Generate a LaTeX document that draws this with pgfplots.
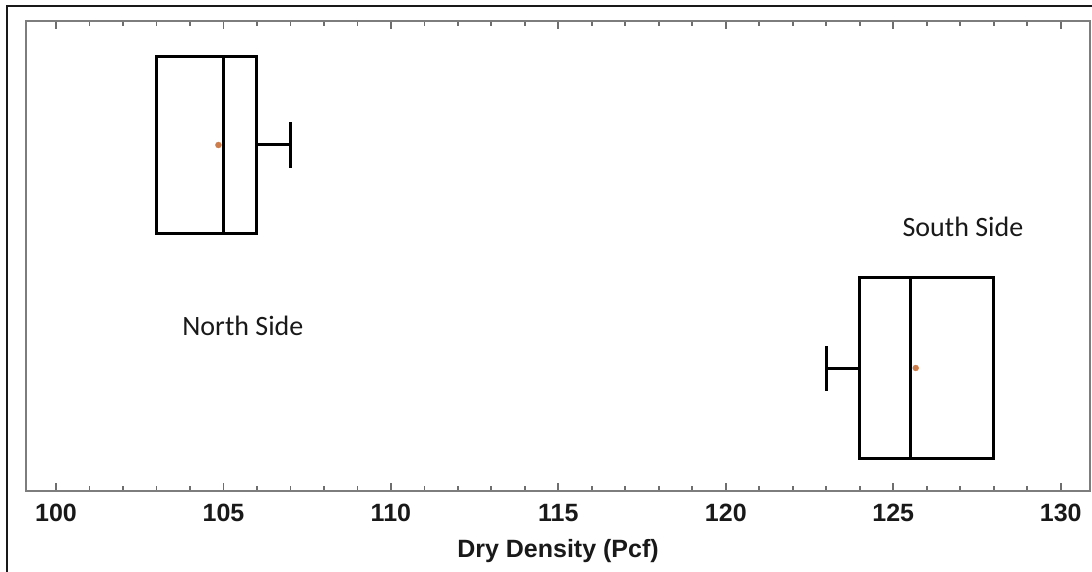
\documentclass[border=0pt]{standalone}
\usepackage{fontspec}
\setmainfont{Liberation Sans}
\newfontfamily\calfont{Carlito}
\usepackage{pgfplots}
\pgfplotsset{compat=1.18}
\usepgfplotslibrary{statistics}
\definecolor{meanc}{RGB}{205,125,75}
\definecolor{axgray}{RGB}{110,110,110}
\begin{document}
\begin{tikzpicture}[x=1pt,y=1pt]
\useasboundingbox (0,0) rectangle (1092,571);
\fill[white] (0,0) rectangle (1092,571);
\draw[line width=2.5pt, black!90] (7,-5) -- (7,565) -- (1100,565);
\begin{axis}[
  at={(26pt,80pt)}, anchor=south west,
  scale only axis, width=1064pt, height=470pt,
  xmin=99.104, xmax=130.875, ymin=0, ymax=470,
  ytick=\empty,
  xtick={100,105,...,130},
  minor x tick num=4,
  tick align=inside,
  major tick length=8pt, minor tick length=5pt,
  tick style={draw=axgray, line width=1.8pt},
  axis line style={draw=axgray!90, line width=2.2pt},
  /pgf/number format/assume math mode=true,
  xticklabel style={font=\fontsize{25}{30}\selectfont\bfseries, anchor=base, yshift=-30.5pt, text=black!90},
  xlabel={Dry Density (Pcf)},
  xlabel style={font=\fontsize{25}{30}\selectfont\bfseries, at={(axis description cs:0.5,0)}, anchor=base, yshift=-66pt, text=black!90},
  clip=false,
  boxplot/draw direction=x,
]
\addplot[draw=black, line width=3pt, solid,
  boxplot prepared={lower whisker=103, lower quartile=103, median=105, upper quartile=106, upper whisker=107, draw position=346, box extend=177, whisker extend=46}]
  coordinates {};
\addplot[draw=black, line width=3pt, solid,
  boxplot prepared={lower whisker=123, lower quartile=124, median=125.5, upper quartile=128, upper whisker=128, draw position=123, box extend=180, whisker extend=45}]
  coordinates {};
% means
\addplot[only marks, mark=*, mark size=3pt, mark options={fill=meanc, draw=meanc, line width=0.3pt}]
  coordinates {(104.85,346) (125.67,123)};
\node[font=\calfont\fontsize{28}{34}\selectfont, anchor=base, text=black!90] at (axis cs:105.58,156) {North Side};
\node[font=\calfont\fontsize{28}{34}\selectfont, anchor=base, text=black!90] at (axis cs:127.08,254) {South Side};
\end{axis}
\end{tikzpicture}
\end{document}
